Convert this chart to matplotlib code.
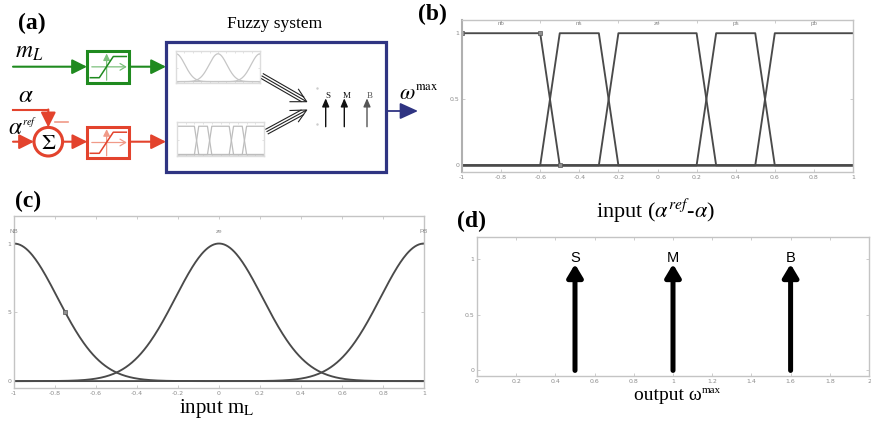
import numpy as np
import matplotlib
matplotlib.use('Agg')
import matplotlib.pyplot as plt
from matplotlib.patches import Rectangle, Circle

plt.rcParams['mathtext.fontset'] = 'stix'
SERIF = 'Liberation Serif'
SANS = 'Liberation Sans'

W, H = 871, 422

# input (alpha_ref - alpha): trapezoid MFs [a, b, c, d]
err_names = ['nb', 'ns', 'ze', 'ps', 'pb']
err_params = [
    [-1.0, -1.0, -0.6, -0.5],
    [-0.6, -0.5, -0.3, -0.2],
    [-0.3, -0.2, 0.2, 0.3],
    [0.2, 0.3, 0.5, 0.6],
    [0.5, 0.6, 1.0, 1.0],
]

# input m_L: gaussian MFs
load_names = ['NB', 'ze', 'PB']
load_centers = [-1.0, 0.0, 1.0]
load_sigmas = [0.2123, 0.2123, 0.2123]

# output omega_max: singletons
out_names = ['S', 'M', 'B']
out_values = [0.5, 1.0, 1.6]
out_heights = [1.0, 1.0, 1.0]

in_ticks = [-1, -0.8, -0.6, -0.4, -0.2, 0, 0.2, 0.4, 0.6, 0.8, 1]
in_ticklabels = ['-1', '-0.8', '-0.6', '-0.4', '-0.2', '0', '0.2', '0.4', '0.6', '0.8', '1']
out_ticks = [0, 0.2, 0.4, 0.6, 0.8, 1, 1.2, 1.4, 1.6, 1.8, 2]
out_ticklabels = ['0', '0.2', '0.4', '0.6', '0.8', '1', '1.2', '1.4', '1.6', '1.8', '2']

MF_COLOR = '#4a4a4a'
TICK_COLOR = '#c4c4c4'
LABEL_COLOR = '#8c8c8c'
GREEN = '#1f8a1f'
GREEN_LT = '#7cc07c'
RED = '#e3432d'
RED_LT = '#f09a88'
NAVY = '#2f3482'

fig = plt.figure(figsize=(W / 100, H / 100), dpi=100)


def px_axes(x0, y0, x1, y1):
    return fig.add_axes([x0 / W, 1 - y1 / H, (x1 - x0) / W, (y1 - y0) / H])


def ftext(x, y, s, **kw):
    kw.setdefault('ha', 'center')
    kw.setdefault('va', 'center')
    return fig.text(x / W, 1 - y / H, s, **kw)


def trapmf(x, p):
    a, b, c, d = p
    x = np.asarray(x, float)
    up = np.ones_like(x) if b == a else (x - a) / (b - a)
    down = np.ones_like(x) if d == c else (d - x) / (d - c)
    return np.clip(np.minimum(up, down), 0, 1)


def gaussmf(x, c, s):
    return np.exp(-(x - c) ** 2 / (2 * s ** 2))


def mf_frame(ax, xlim, ylim, xticks, yticks, xlabels=None, ylabels=None,
             color=TICK_COLOR, tick_len=2.0, size=4.5):
    ax.set_xlim(xlim)
    ax.set_ylim(ylim)
    ax.set_xticks(xticks)
    ax.set_yticks(yticks)
    ax.set_xticklabels(xlabels if xlabels is not None else [])
    ax.set_yticklabels(ylabels if ylabels is not None else [])
    ax.tick_params(direction='in', length=tick_len, width=0.6, color=color,
                   labelsize=size, labelcolor=LABEL_COLOR, pad=2,
                   top=True, right=True)
    for sp in ax.spines.values():
        sp.set_color(color)
        sp.set_linewidth(1.0)


def plot_err(ax, color, lw, names=True):
    for name, p in zip(err_names, err_params):
        xs = np.unique(np.r_[-1.0, p, 1.0])
        ax.plot(xs, trapmf(xs, p), color=color, lw=lw)
        if names:
            ax.text((p[1] + p[2]) / 2, 1.075, name, ha='center', va='center',
                    fontsize=4.5, color=LABEL_COLOR, family=SANS)


def plot_load(ax, color, lw, names=True):
    xs = np.linspace(-1, 1, 401)
    for name, c, s in zip(load_names, load_centers, load_sigmas):
        ax.plot(xs, gaussmf(xs, c, s), color=color, lw=lw)
        if names:
            ax.text(c, 1.09, name, ha='center', va='center',
                    fontsize=4.5, color=LABEL_COLOR, family=SANS)


def arrow(ax, p0, p1, color, lw=1.4, hl=0.8, hw=0.4, ms=10, style='-|>', z=5):
    ax.annotate('', xy=p1, xytext=p0, zorder=z,
                arrowprops=dict(arrowstyle=f'{style},head_length={hl},head_width={hw}',
                                color=color, lw=lw, shrinkA=0, shrinkB=0,
                                mutation_scale=ms))


def sat_icon(ax, x0, y0, x1, y1, dark, light):
    w, h = x1 - x0, y1 - y0
    ym = y0 + h / 2
    xa = x0 + 0.46 * w
    arrow(ax, (xa, y1 - 2.5), (xa, y0 + 2.5), light, lw=0.9, hl=0.5, hw=0.25, ms=8)
    arrow(ax, (x0 + 4.5, ym), (x1 - 2.5, ym), light, lw=0.9, hl=0.5, hw=0.3, ms=8, style='->')
    ax.plot([x0 + 3, x0 + 12, x0 + 26, x1 - 3], [y1 - 5, y1 - 5, y0 + 5.5, y0 + 5.5],
            color=dark, lw=1.1, zorder=6)


def triple_arrow(ax, start, tip, arm1, arm2, gap=2.6):
    s, t = np.array(start, float), np.array(tip, float)
    d = (t - s) / np.hypot(*(t - s))
    n = np.array([-d[1], d[0]])
    for k, back in [(-1, 5.0), (0, 1.0), (1, 5.0)]:
        a = s + k * gap * n
        b = t - back * d + k * gap * n
        ax.plot([a[0], b[0]], [a[1], b[1]], color='#222222', lw=0.8, zorder=5)
    ax.plot([arm1[0], tip[0], arm2[0]], [arm1[1], tip[1], arm2[1]],
            color='#222222', lw=0.8, zorder=5)


def with_sup(x, y, base, sup, size, sup_size, sup_y=0.8, **kw):
    # base symbol followed by a small raised suffix
    t = ftext(x, y, base, fontsize=size, **kw)
    ax_a.annotate(sup, xy=(1.0, sup_y), xycoords=t, ha='left', va='center',
                  fontsize=sup_size, **kw)
    return t


# ---- (a) block diagram, pixel coordinates ----
ax_a = fig.add_axes([0, 0, 1, 1])
ax_a.set_xlim(0, W)
ax_a.set_ylim(H, 0)
ax_a.axis('off')

# m_L branch
y_g = 66.7
arrow(ax_a, (13, y_g), (87, y_g), GREEN, lw=1.5, hl=0.9, hw=0.45)
ax_a.add_patch(Rectangle((87.3, 51), 42, 31.7, fc='white', ec=GREEN, lw=2.2, zorder=3))
sat_icon(ax_a, 87.3, 51, 129.3, 82.7, GREEN, GREEN_LT)
arrow(ax_a, (129.3, y_g), (166, y_g), GREEN, lw=1.5, hl=0.9, hw=0.45)

# alpha branch
y_r = 141.7
cx, r = 48.3, 14.3
ax_a.plot([13, cx], [109.5, 109.5], color=RED, lw=1.5)
arrow(ax_a, (cx, 109.5), (cx, y_r - r), RED, lw=1.5, hl=0.9, hw=0.45)
ax_a.plot([55, 68], [122.3, 122.3], color=RED_LT, lw=1.2)
arrow(ax_a, (13, y_r), (cx - r, y_r), RED, lw=1.5, hl=0.9, hw=0.45)
ax_a.add_patch(Circle((cx, y_r), r, fc='white', ec=RED, lw=2.2, zorder=3))
ax_a.text(cx, y_r + 1, r'$\Sigma$', ha='center', va='center', fontsize=16, zorder=6)
arrow(ax_a, (cx + r, y_r), (87.3, y_r), RED, lw=1.5, hl=0.9, hw=0.45)
ax_a.add_patch(Rectangle((87.3, 126.7), 42, 31.6, fc='white', ec=RED, lw=2.2, zorder=3))
sat_icon(ax_a, 87.3, 126.7, 129.3, 158.3, RED, RED_LT)
arrow(ax_a, (129.3, y_r), (166, y_r), RED, lw=1.5, hl=0.9, hw=0.45)

# fuzzy system box
ax_a.add_patch(Rectangle((166, 42), 220, 130, fc='white', ec=NAVY, lw=2.3, zorder=2))
triple_arrow(ax_a, (262, 76), (306.7, 101.7), (290, 101.7), (298.5, 89.3))
triple_arrow(ax_a, (267, 131.5), (306.7, 110), (290, 110.5), (298.5, 121.7))
ax_a.plot([316.7, 316.7], [88, 124], ls='none', marker='.', ms=1.5, color='#cccccc', zorder=5)
sing_x = [325.7, 344.3, 367.0]
for name, xs, col in zip(out_names, sing_x, ['#111111', '#111111', '#555555']):
    arrow(ax_a, (xs, 126.7), (xs, 98.3), col, lw=1.0, hl=0.7, hw=0.3, ms=7)
    ax_a.text(xs + 2.6, 95.5, name, ha='center', va='center', fontsize=6.5,
              family=SERIF, color=col, zorder=6)
arrow(ax_a, (386, 111), (418, 111), NAVY, lw=1.3, hl=1.1, hw=0.5)

# faded MF thumbnails inside the box
ax_t1 = px_axes(176, 51, 260, 83)
plot_load(ax_t1, '#c6c6c6', 0.9, names=False)
mf_frame(ax_t1, (-1, 1), (-0.05, 1.1), in_ticks, [0, 0.5, 1], color='#dddddd', tick_len=1.2)
ax_t2 = px_axes(177, 122, 264, 156)
plot_err(ax_t2, '#bdbdbd', 0.9, names=False)
mf_frame(ax_t2, (-1, 1), (-0.05, 1.15), in_ticks, [0, 0.5, 1], color='#dddddd', tick_len=1.2)

# ---- (b) error input MFs ----
ax_b = px_axes(462, 20, 853, 172)
plot_err(ax_b, MF_COLOR, 1.35)
p0 = err_params[0]
ax_b.plot([-1, p0[2], p0[3]], [1, 1, 0], ls='none', marker='s', ms=2.5,
          mfc='#909090', mec='#555555', mew=0.5)
mf_frame(ax_b, (-1, 1), (-0.05, 1.1), in_ticks, [0, 0.5, 1],
         in_ticklabels, ['0', '0.5', '1'])
ax_b.spines['left'].set_color('#b0b0b0')
ax_b.spines['left'].set_linewidth(1.5)

# ---- (c) load input MFs ----
ax_c = px_axes(14, 216, 424, 388)
plot_load(ax_c, MF_COLOR, 1.35)
c0, s0 = load_centers[0], load_sigmas[0]
ax_c.plot([c0 + s0 * np.sqrt(2 * np.log(2))], [0.5], ls='none', marker='s', ms=2.5,
          mfc='#909090', mec='#555555', mew=0.5)
mf_frame(ax_c, (-1, 1), (-0.05, 1.2), in_ticks, [0, 0.5, 1],
         in_ticklabels, ['0', '5', '1'])

# ---- (d) output singletons ----
ax_d = px_axes(477, 237, 869, 376)
for name, v, h in zip(out_names, out_values, out_heights):
    ax_d.annotate('', xy=(v, h), xytext=(v, 0),
                  arrowprops=dict(arrowstyle='-|>,head_length=0.55,head_width=0.33',
                                  color='black', lw=3.6, shrinkA=0, shrinkB=3.5,
                                  mutation_scale=14, capstyle='round'))
    ax_d.text(v, h + 0.01, name, ha='center', va='center', fontsize=10.5, family=SANS)
mf_frame(ax_d, (0, 2), (-0.05, 1.2), out_ticks, [0, 0.5, 1],
         out_ticklabels, ['0', '0.5', '1'])

# ---- titles and labels ----
bold = dict(fontsize=17, fontweight='bold', family=SERIF)
ftext(31.5, 23, '(a)', **bold)
ftext(432, 14, '(b)', **bold)
ftext(28, 201, '(c)', **bold)
ftext(471, 221, '(d)', **bold)
ftext(275, 24, 'Fuzzy system', fontsize=12.5, family=SERIF)
ftext(29, 51, r'$m_L$', fontsize=17)
ftext(26, 95, r'$\alpha$', fontsize=18)
with_sup(15, 127, r'$\alpha$', r'$ref$', 17, 7.5, sup_y=0.72)
with_sup(407, 93, r'$\omega$', r'$\rm max$', 16, 9, sup_y=0.85)
ftext(655, 211, r'input ($\alpha^{ref}$-$\alpha$)', fontsize=16, family=SERIF)
ftext(217, 408, r'input m$_{\rm L}$', fontsize=15, family=SERIF)

# output label: upright omega with a small raised "max"
t_out = ftext(668, 395, 'output ω', fontsize=14, family=SERIF)
ax_a.annotate('max', xy=(1.0, 0.78), xycoords=t_out, ha='left', va='center',
              fontsize=8, family=SERIF)

fig.savefig('out.png', dpi=100)
